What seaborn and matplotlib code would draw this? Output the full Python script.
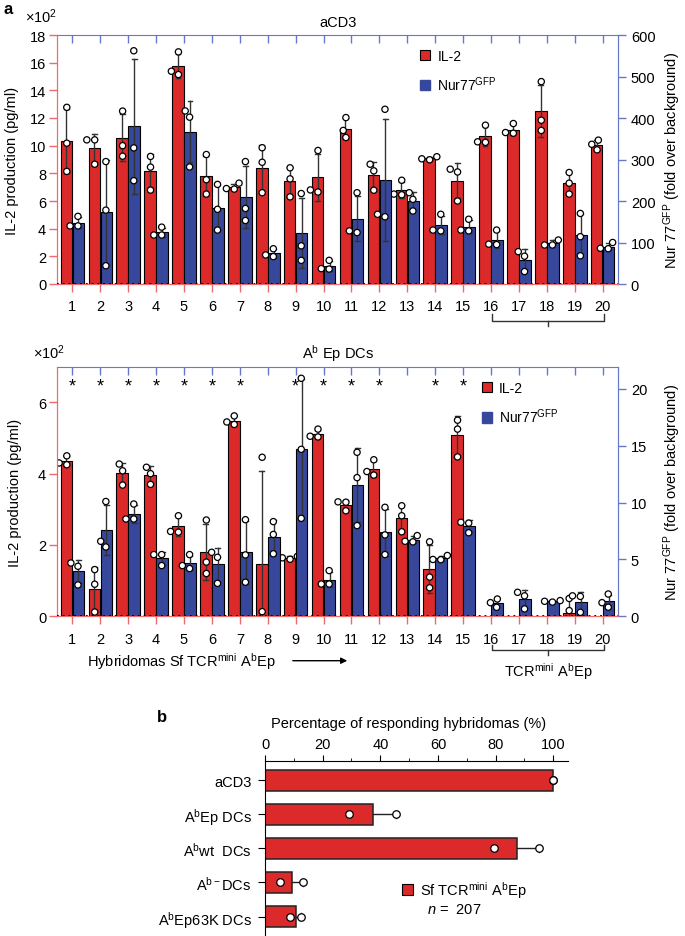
import numpy as np
import pandas as pd
import matplotlib
matplotlib.use("Agg")
import matplotlib.pyplot as plt
import seaborn as sns
from matplotlib.patches import Patch

plt.rcParams['font.family'] = ['Liberation Sans', 'DejaVu Sans']
plt.rcParams['font.size'] = 10
plt.rcParams['mathtext.fontset'] = 'custom'
plt.rcParams['mathtext.rm'] = 'Liberation Sans'
plt.rcParams['mathtext.it'] = 'Liberation Sans:italic'
plt.rcParams['mathtext.bf'] = 'Liberation Sans:bold'

RED = "#dc2a2b"
BLUE = "#37479c"
RED_AX = "#ef6b6b"
BLUE_AX = "#6578cc"
ERR = "#333333"

hybridomas = [str(i) for i in range(1, 21)]
series = ["IL-2", "Nur77"]

# aCD3: IL-2 (x10^2 pg/ml) and Nur77-GFP (fold over background), 3 replicates each
il2_acd3 = [
    [12.77, 10.18, 8.14], [10.42, 10.42, 8.66], [12.5, 10.0, 9.24], [9.22, 8.45, 6.79],
    [16.78, 15.14, 15.38], [9.36, 7.54, 6.5], [7.29, 6.9, 6.86], [9.85, 8.8, 6.6],
    [8.4, 7.6, 6.3], [9.65, 6.65, 6.8], [12.03, 11.1, 10.59], [8.66, 8.18, 6.78],
    [7.5, 6.5, 6.45], [9.2, 9.05, 8.98], [8.3, 8.1, 6.0], [11.48, 10.28, 10.24],
    [11.6, 10.9, 10.95], [14.63, 11.84, 11.1], [8.06, 7.29, 6.5], [10.4, 10.1, 9.7],
]
nur_acd3 = [
    [163, 140, 140], [295, 178, 44], [562, 328, 249], [137, 118, 118],
    [417, 402, 282], [240, 180, 130], [295, 182, 153], [85, 70, 66],
    [218, 92, 57], [57, 36, 37], [220, 128, 124], [421, 168, 162],
    [220, 204, 176], [168, 130, 128], [156, 130, 128], [130, 96, 95],
    [78, 67, 30], [106, 94, 94], [170, 114, 68], [100, 86, 85],
]

# Ab Ep DCs
il2_dc = [
    [4.5, 4.3, 4.25], [1.31, 0.9, 0.12], [4.27, 4.08, 3.68], [4.18, 4.0, 3.7],
    [2.82, 2.38, 2.36], [2.7, 1.52, 1.2], [5.62, 5.45, 5.38], [4.46, 0.13, -0.18],
    [1.68, 1.64, 1.6], [5.25, 5.05, 5.03], [3.21, 3.2, 2.96], [4.39, 4.06, 3.96],
    [3.1, 2.82, 2.37], [2.09, 1.1, 0.8], [5.5, 5.25, 4.47], [],
    [], [], [0.5, 0.16, -0.4], [],
]
nur_dc = [
    [4.69, 4.4, 2.76], [10.1, 6.6, 6.1], [9.88, 8.56, 8.56], [5.43, 5.43, 4.46],
    [5.43, 4.46, 4.2], [5.63, 5.19, 2.9], [8.5, 5.4, 3.0], [8.33, 7.2, 5.5],
    [20.94, 14.69, 8.62], [4.02, 2.84, 2.84], [14.43, 12.2, 7.98], [9.59, 7.16, 5.43],
    [7.1, 6.6, 6.55], [5.35, 5.0, 4.98], [8.27, 8.2, 7.35], [1.52, 1.2, 0.79],
    [2.11, 1.8, 0.65], [1.38, 1.32, 1.25], [1.8, 1.75, 0.35], [1.96, 1.2, 0.8],
]
dc_stars = ["1", "2", "3", "4", "5", "6", "7", "9", "10", "11", "12", "14", "15"]

# panel b
conditions = ["aCD3", r"A$^{\mathrm{b}}$Ep DCs", r"A$^{\mathrm{b}}$wt  DCs",
              r"A$^{\mathrm{b-}}$DCs", r"A$^{\mathrm{b}}$Ep63K DCs"]
pct_responding = [[100, 100], [29.3, 45.5], [79.5, 95.0], [5.2, 13.3], [8.8, 12.6]]


def long_table(il2, nur):
    rows = []
    for name, vals in (("IL-2", il2), ("Nur77", nur)):
        for h, reps in zip(hybridomas, vals):
            for v in reps:
                rows.append((h, name, v))
    return pd.DataFrame(rows, columns=["hyb", "series", "value"])


def draw_panel(ax, df, ylim_l, yticks_l, ylim_r, yticks_r):
    ax2 = ax.twinx()
    common = dict(x="hyb", y="value", hue="series", order=hybridomas,
                  hue_order=series, dodge=True, legend=False)
    for axis, name in ((ax, "IL-2"), (ax2, "Nur77")):
        sub = df[df.series == name]
        sns.barplot(data=sub, ax=axis, palette={"IL-2": RED, "Nur77": BLUE},
                    saturation=1, errorbar="sd", capsize=0.35, width=0.86, gap=0.04,
                    err_kws={"color": ERR, "linewidth": 1.0},
                    edgecolor="black", linewidth=0.8, **common)
        sns.swarmplot(data=sub, ax=axis, palette={"IL-2": "white", "Nur77": "white"},
                      size=4.5, edgecolor="black", linewidth=0.9, **common)
        axis.set_xlabel("")
        axis.set_ylabel("")

    ax.set_ylim(*ylim_l)
    ax.set_yticks(yticks_l)
    ax2.set_ylim(*ylim_r)
    ax2.set_yticks(yticks_r)
    ax.set_xticks(range(len(hybridomas)))
    ax.set_xticklabels(hybridomas)
    ax.set_xlim(-0.54, 19.56)

    ax.tick_params(axis="x", colors=RED_AX, labelcolor="black", length=6, width=1, pad=5, labelsize=10.5)
    ax.tick_params(axis="y", colors=RED_AX, labelcolor="black", length=6, width=1, pad=2, labelsize=10.5)
    ax2.tick_params(axis="y", colors=BLUE_AX, labelcolor="black", length=6, width=1, pad=3, labelsize=10.5)
    for a in (ax, ax2):
        a.spines["left"].set_color(RED_AX)
        a.spines["bottom"].set_color(RED_AX)
        a.spines["right"].set_color(BLUE_AX)
        a.spines["top"].set_visible(False)
    sec = ax.secondary_xaxis("top")
    sec.set_xticks(range(len(hybridomas)))
    sec.tick_params(axis="x", direction="in", length=6, width=1, color=BLUE_AX, labeltop=False)
    sec.spines["top"].set_color(BLUE_AX)

    ax2.axhline(0, color="black", ls=(0, (1, 2.2)), lw=1.3, zorder=5)
    return ax2


def bracket(ax, y0, y1, y2):
    tr = ax.get_xaxis_transform()
    ax.plot([15.04, 15.04, 19.05, 19.05], [y0, y1, y1, y0], transform=tr,
            clip_on=False, color="#333333", lw=1)
    ax.plot([17.05, 17.05], [y1, y2], transform=tr, clip_on=False, color="#333333", lw=1)


def series_legend(ax, x, y):
    handles = [Patch(facecolor=RED, edgecolor="black", linewidth=0.8, label="IL-2"),
               Patch(facecolor=BLUE, edgecolor=BLUE, label=r"Nur77$^{\mathrm{GFP}}$")]
    ax.legend(handles=handles, loc="upper left", bbox_to_anchor=(x, y), frameon=False,
              borderaxespad=0, borderpad=0, handlelength=0.75, handleheight=0.75,
              handletextpad=0.5, labelspacing=0.85, fontsize=10)


W, H = 685, 937
fig = plt.figure(figsize=(W / 100, H / 100), dpi=100)


def box(left, top, right, bottom):
    return [left / W, 1 - bottom / H, (right - left) / W, (bottom - top) / H]


# ---- panel a, top: aCD3
ax_top = fig.add_axes(box(57.3, 36, 618.3, 285))
draw_panel(ax_top, long_table(il2_acd3, nur_acd3), (0, 18), range(0, 19, 2),
           (0, 600), range(0, 601, 100))
series_legend(ax_top, 0.6465, 0.945)
ax_top.text(0.5, 1 + 13 / 249, "aCD3", transform=ax_top.transAxes, ha="center", va="center", fontsize=10.5)
bracket(ax_top, -0.12, -0.147, -0.169)

# ---- panel a, bottom: Ab Ep DCs
ax_bot = fig.add_axes(box(57.3, 367.7, 618.3, 617.3))
draw_panel(ax_bot, long_table(il2_dc, nur_dc), (0, 7), [0, 2, 4, 6],
           (0, 21.96), [0, 5, 10, 15, 20])
series_legend(ax_bot, 0.7565, 0.943)
ax_bot.text(0.5, 1 + 14.4 / 249.6, r"A$^{\mathrm{b}}$ Ep DCs", transform=ax_bot.transAxes,
            ha="center", va="center", fontsize=10.5)
for h in dc_stars:
    ax_bot.text(hybridomas.index(h), 6.45, "*", ha="center", va="center", fontsize=13)
bracket(ax_bot, -0.115, -0.134, -0.155)

for y_x10, y_mid, x_lab in ((17, 160.5, 12), (353, 492.5, 15)):
    fig.text(25 / W if y_x10 < 100 else 33 / W, 1 - y_x10 / H, r"$\times$10$^{2}$",
             ha="left", va="center", fontsize=10.5)
    fig.text(x_lab / W, 1 - y_mid / H, "IL-2 production (pg/ml)", rotation=90,
             ha="center", va="center", fontsize=10.5)
    fig.text(672 / W, 1 - y_mid / H, r"Nur 77$^{\mathrm{GFP}}$ (fold over background)",
             rotation=90, ha="center", va="center", fontsize=10.5)

fig.text(87 / W, 1 - 661.7 / H, r"Hybridomas Sf TCR$^{\mathrm{mini}}$ A$^{\mathrm{b}}$Ep",
         ha="left", va="center", fontsize=10.5)
fig.add_artist(matplotlib.patches.FancyArrowPatch(
    (290 / W, 1 - 661.7 / H), (350 / W, 1 - 661.7 / H), transform=fig.transFigure,
    arrowstyle="-|>", mutation_scale=9, lw=1, color="black"))
fig.text(548 / W, 1 - 671.7 / H, r"TCR$^{\mathrm{mini}}$ A$^{\mathrm{b}}$Ep",
         ha="center", va="center", fontsize=10.5)

fig.text(3 / W, 1 - 10 / H, "a", ha="left", va="center", fontsize=12, fontweight="bold")
fig.text(157 / W, 1 - 717 / H, "b", ha="left", va="center", fontsize=12, fontweight="bold")

# ---- panel b
df_b = pd.DataFrame([(c, v) for c, reps in zip(conditions, pct_responding) for v in reps],
                    columns=["cond", "pct"])
ax_b = fig.add_axes(box(265, 761.7, 567.7, 937))
sns.barplot(data=df_b, x="pct", y="cond", order=conditions, color=RED, saturation=1,
            errorbar="se", capsize=0.2, width=0.62, edgecolor="#222222", linewidth=1.1,
            err_kws={"color": "#222222", "linewidth": 1.0, "zorder": 0.5}, ax=ax_b)
sns.stripplot(data=df_b, x="pct", y="cond", order=conditions, jitter=False, color="white",
              edgecolor="black", linewidth=0.9, size=5.4, ax=ax_b, zorder=4)
ax_b.set_xlim(0, 105)
ax_b.set_ylim(4.57, -0.57)
ax_b.set_xlabel("")
ax_b.set_ylabel("")
ax_b.xaxis.tick_top()
ax_b.set_xticks(range(0, 101, 20))
ax_b.set_xticks(range(10, 100, 20), minor=True)
ax_b.tick_params(axis="x", which="major", length=4, pad=3, labelsize=10.5)
ax_b.tick_params(axis="x", which="minor", length=2.5)
ax_b.tick_params(axis="y", length=5, pad=4.5, labelsize=10.5)
ax_b.spines["right"].set_visible(False)
ax_b.spines["bottom"].set_visible(False)
fig.text(409 / W, 1 - 724 / H, "Percentage of responding hybridomas (%)",
         ha="center", va="center", fontsize=10.5)
ax_b.legend(handles=[Patch(facecolor=RED, edgecolor="black", linewidth=0.8,
                           label=r"Sf TCR$^{\mathrm{mini}}$ A$^{\mathrm{b}}$Ep")],
            loc="center left", bbox_to_anchor=((401.7 - 265) / 302.7, (937 - 890.7) / 175.3),
            frameon=False, borderaxespad=0, borderpad=0, handlelength=0.75,
            handleheight=0.75, handletextpad=0.5, fontsize=10.5)
fig.text(426.7 / W, 1 - 910 / H, r"$n$ =  207", ha="left", va="center", fontsize=10.5)

fig.savefig("out.png", dpi=100)
